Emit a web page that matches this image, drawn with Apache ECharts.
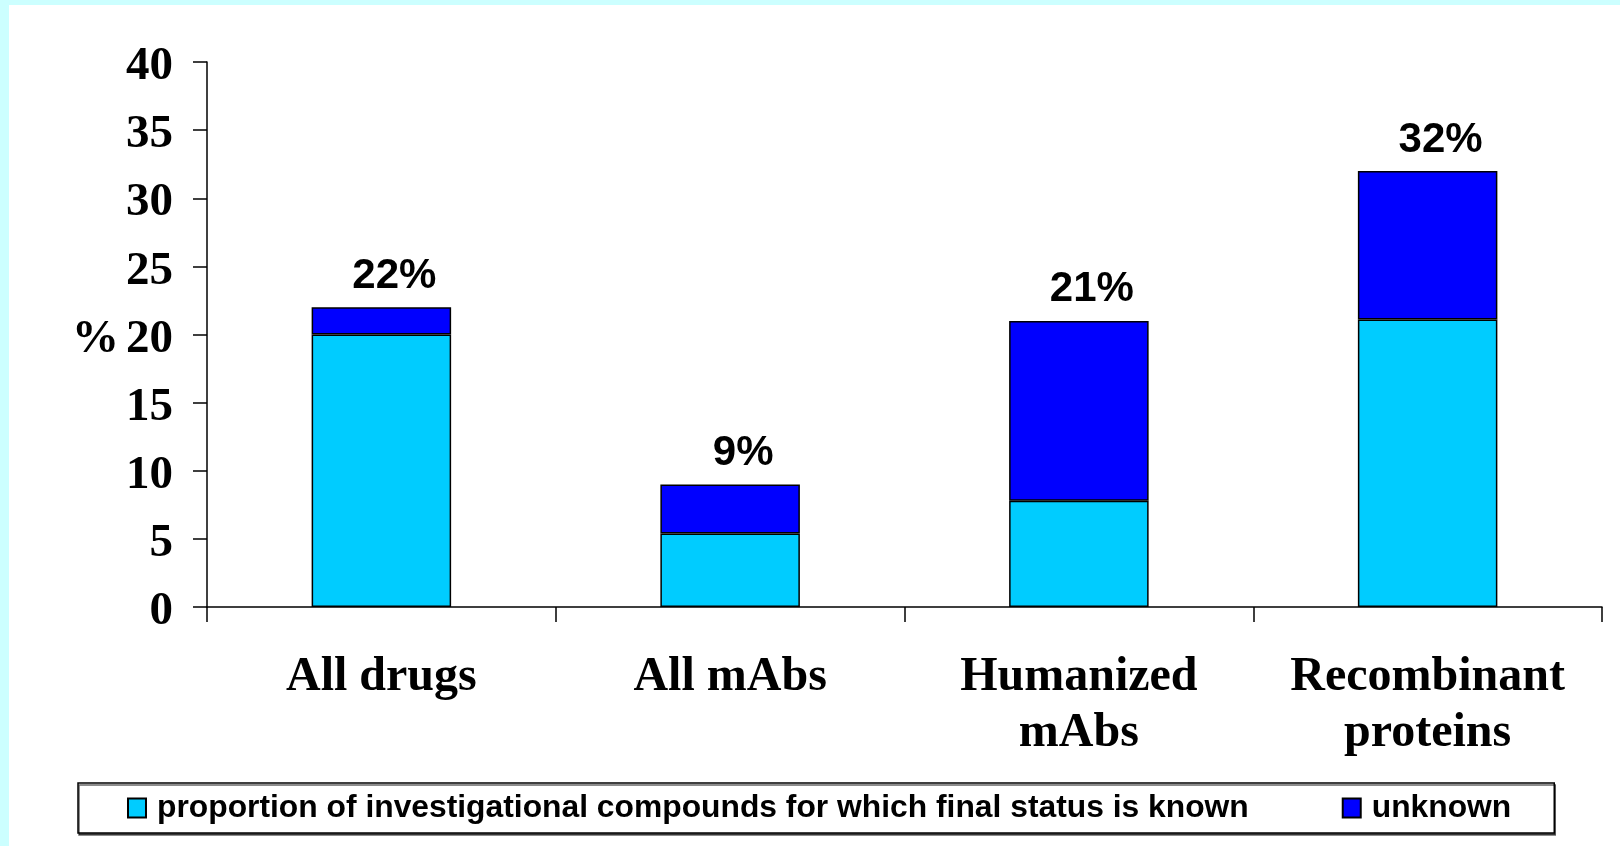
<!DOCTYPE html>
<html>
<head>
<meta charset="utf-8">
<script src="https://cdn.jsdelivr.net/npm/echarts@6/dist/echarts.min.js"></script>
<style>
  html, body { margin: 0; padding: 0; background: #CCFFFF; width: 1620px; height: 846px; overflow: hidden; }
  #chart { position: absolute; left: 9px; top: 5px; width: 1611px; height: 841px; background: #FFFFFF; }
</style>
</head>
<body>
<div id="chart"></div>
<script>
const categories = ['All drugs', 'All mAbs', 'Humanized\nmAbs', 'Recombinant\nproteins'];
const knownValues = [20, 5.4, 7.8, 21.1];
const unknownValues = [2, 3.6, 13.2, 10.9];
const totalLabels = ['22%', '9%', '21%', '32%'];
const yTicks = [0, 5, 10, 15, 20, 25, 30, 35, 40];
const seriesNames = ['proportion of investigational compounds for which final status is known', 'unknown'];

const chart = echarts.init(document.getElementById('chart'));
const serif = '"Liberation Serif", "Times New Roman", serif';
const sans = '"Liberation Sans", Arial, sans-serif';

chart.setOption({
  animation: false,
  grid: { left: 198, top: 57, width: 1395, height: 545, containLabel: false },
  legend: {
    left: 69, top: 778,
    orient: 'horizontal',
    selectedMode: false,
    icon: 'rect',
    itemWidth: 18, itemHeight: 19,
    itemGap: 93,
    padding: [9, 43, 9, 49],
    borderColor: '#000', borderWidth: 1.5,
    backgroundColor: '#fff',
    shadowColor: 'rgba(0,0,0,0.6)', shadowOffsetX: 1, shadowOffsetY: 2, shadowBlur: 0,
    textStyle: { fontFamily: sans, fontWeight: 'bold', fontSize: 31.8, lineHeight: 32, color: '#000', padding: [0, 0, 0, 6] },
    data: seriesNames
  },
  xAxis: {
    type: 'category',
    data: categories,
    axisLine: { lineStyle: { color: '#000', width: 1.5 } },
    axisTick: { show: true, length: 15, lineStyle: { color: '#000', width: 1.5 } },
    axisLabel: { interval: 0, fontFamily: serif, fontWeight: 'bold', fontSize: 48, lineHeight: 56, color: '#000', margin: 43 }
  },
  yAxis: {
    type: 'value',
    min: yTicks[0], max: yTicks[yTicks.length - 1], interval: yTicks[1] - yTicks[0],
    name: '%', nameLocation: 'middle', nameRotate: 0, nameGap: 88,
    nameTextStyle: { fontFamily: serif, fontWeight: 'bold', fontSize: 47, color: '#000', verticalAlign: 'top', lineHeight: 10 },
    axisLine: { show: true, lineStyle: { color: '#000', width: 1.5 } },
    axisTick: { show: true, length: 14, lineStyle: { color: '#000', width: 1.5 } },
    splitLine: { show: false },
    axisLabel: { fontFamily: serif, fontWeight: 'bold', fontSize: 47, color: '#000', margin: 34, verticalAlign: 'top', lineHeight: 10 }
  },
  series: [
    {
      name: seriesNames[0], type: 'bar', stack: 'total', barWidth: '40%',
      data: knownValues,
      itemStyle: { color: '#00CCFF', borderColor: '#000', borderWidth: 1.5 }
    },
    {
      name: seriesNames[1], type: 'bar', stack: 'total', barWidth: '40%',
      data: unknownValues,
      itemStyle: { color: '#0000FF', borderColor: '#000', borderWidth: 1.5 },
      label: {
        show: true, position: 'top', distance: 10, offset: [13, 0],
        formatter: p => totalLabels[p.dataIndex],
        fontFamily: sans, fontWeight: 'bold', fontSize: 42, color: '#000'
      }
    }
  ]
});
</script>
</body>
</html>
